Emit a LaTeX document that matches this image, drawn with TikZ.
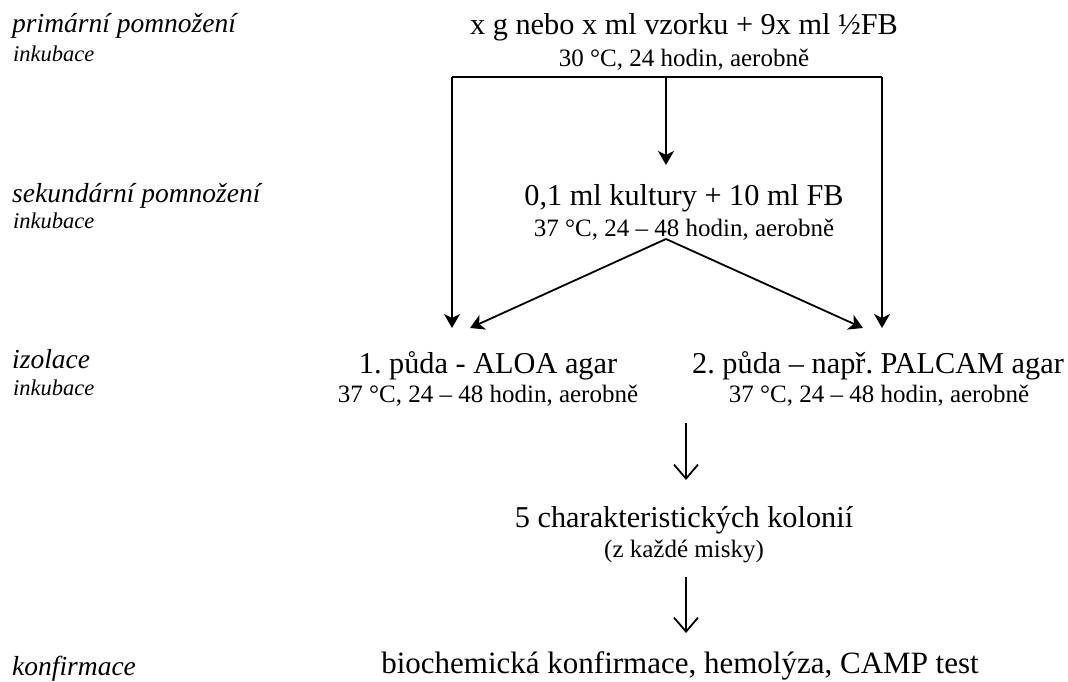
\documentclass[tikz,border=0pt]{standalone}
\usepackage{fontspec}
\setmainfont{Liberation Serif}
\usetikzlibrary{arrows.meta}
\frenchspacing

\tikzset{
  faze/.style={font=\fontsize{27.5}{30}\selectfont\itshape, anchor=base west, inner sep=0pt},
  inkub/.style={font=\fontsize{22.5}{24}\selectfont\itshape, anchor=base west, inner sep=0pt},
  krok/.style={font=\fontsize{30.3}{34}\selectfont, anchor=base, inner sep=0pt},
  podm/.style={font=\fontsize{25}{28}\selectfont, anchor=base, inner sep=0pt},
  sip/.style={line width=1.8pt, -{Stealth[length=14pt,width=16pt,inset=4pt]}},
  sipka/.style={line width=1.8pt, -{Straight Barb[length=14pt,width=24pt]}}
}

\begin{document}
\begin{tikzpicture}[x=1pt, y=-1pt]
\useasboundingbox (0,0) rectangle (1068,682);

% Left column (stages)
\node[faze] (f1) at (12,33) {primární pomnožení};
\node[inkub] (i1) at (13,62) {inkubace};
\node[faze] (f2) at (12,202) {sekundární pomnožení};
\node[inkub] (i2) at (13,228) {inkubace};
\node[faze] (f3) at (12,368) {izolace};
\node[inkub] (i3) at (13,395) {inkubace};
\node[faze] (f4) at (12,675) {konfirmace};

% Steps
\node[krok] (prim) at (684,35) {x g nebo x ml vzorku + 9x ml ½FB};
\node[podm] (prim2) at (684,67) {30 °C, 24 hodin, aerobně};
\node[krok] (sek) at (684,205) {0,1 ml kultury + 10 ml FB};
\node[podm] (sek2) at (684,236) {37 °C, 24 -- 48 hodin, aerobně};
\node[krok] (izo1) at (488,373) {1. půda - ALOA agar};
\node[podm] (izo1b) at (488,402) {37 °C, 24 -- 48 hodin, aerobně};
\node[krok] (izo2) at (878,373) {2. půda -- např. PALCAM agar};
\node[podm] (izo2b) at (879,402) {37 °C, 24 -- 48 hodin, aerobně};
\node[krok] (kol) at (684,527) {5 charakteristických kolonií};
\node[podm] (kol2) at (684,557) {(z každé misky)};
\node[krok, font=\fontsize{31}{34}\selectfont] (konf) at (680,673) {biochemická konfirmace, hemolýza, CAMP test};

% Branching lines
\coordinate (tl) at (452,77);
\coordinate (tm) at (666,77);
\coordinate (tr) at (882,77);
\coordinate (sekin) at (666,165);
\coordinate (vrch) at (666,239);
\coordinate (l1) at (452,328);
\coordinate (l2) at (470,328);
\coordinate (r1) at (863,328);
\coordinate (r2) at (882,328);
\draw[line width=1.8pt] (tl) -- (tr);
\draw[sip] (tm) -- (sekin);
\draw[sip] (tl) -- (l1);
\draw[sip] (tr) -- (r2);
\draw[sip] (vrch) -- (l2);
\draw[sip] (vrch) -- (r1);

% Lower arrows
\coordinate (a1) at (686,423);
\coordinate (a2) at (686,480);
\coordinate (b1) at (686,577);
\coordinate (b2) at (686,633);
\draw[sipka] (a1) -- (a2);
\draw[sipka] (b1) -- (b2);
\end{tikzpicture}
\end{document}
